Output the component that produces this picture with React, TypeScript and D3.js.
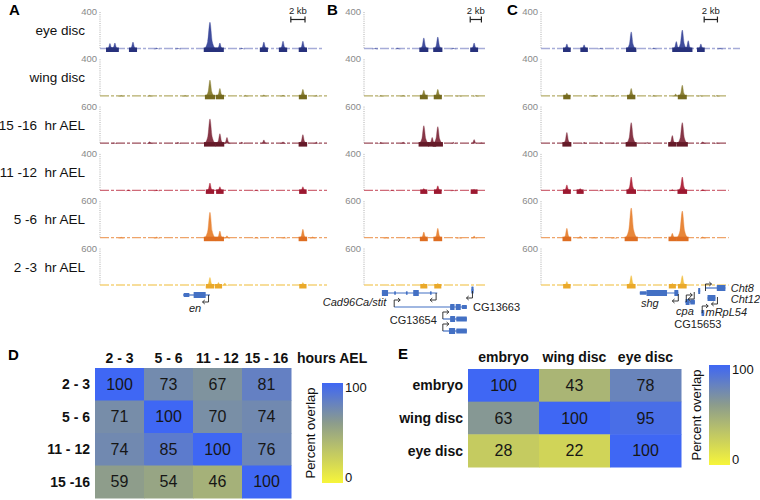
import React from "react";
import * as d3 from "d3";

// ChIP tracks: one row per sample, same order in all three loci
const trackNames = ["eye disc", "wing disc", "15 -16  hr AEL", "11 -12  hr AEL", "5 -6  hr AEL", "2 -3  hr AEL"];
const trackMax = [400, 400, 600, 400, 600, 600];
const trackFill = ["#3f4c9c", "#8c8238", "#863646", "#b02a40", "#e8873a", "#f2bf45"];
const trackDark = ["#27317c", "#756a1f", "#651a28", "#9c1830", "#de6e22", "#eaa92a"];
const trackLine = ["#a6acd8", "#b5ad6a", "#9b4c5a", "#cf6a78", "#eea46a", "#f5d27a"];

const panelLetters = ["A", "B", "C"];
const panelSpanKb = [32, 22, 30];
// how far each track reaches (kb) in each locus
const trackEndKb = [
  [31.3, 32, 32, 32, 32, 32],
  [22, 22, 22, 22, 22, 22],
  [30, 28.2, 28.2, 28.3, 28.3, 28.3],
];

// peaks: [position kb, height, called peak 1/0]
const peaksA = [
  [[1.4, 60, 1], [2.1, 65, 1], [4.65, 75, 1], [8, 8, 0], [11, 6, 0], [15.5, 290, 1], [16.9, 65, 1], [20, 8, 0], [23.1, 75, 1], [25.8, 85, 1], [28.6, 85, 1]],
  [[3, 8, 0], [7, 10, 0], [12, 8, 0], [15.5, 175, 1], [16.9, 85, 1], [20.5, 10, 0], [23.1, 15, 0], [25.8, 12, 0], [28.6, 75, 1], [30.5, 10, 0]],
  [[2, 15, 0], [7, 30, 0], [11, 20, 0], [15.5, 400, 1], [16.9, 160, 1], [17.9, 100, 0], [20, 25, 0], [23.1, 60, 0], [25.8, 30, 0], [28.6, 145, 1], [30.5, 25, 0]],
  [[4, 10, 0], [8, 10, 0], [15.5, 85, 1], [16.9, 45, 1], [22, 8, 0], [28.6, 45, 1]],
  [[3, 15, 0], [8, 20, 0], [15.5, 420, 1], [16.9, 115, 1], [17.9, 40, 0], [22, 15, 0], [26, 15, 0], [28.6, 145, 1], [30, 25, 0]],
  [[15.5, 130, 1], [16.7, 50, 1], [17.6, 40, 0], [28.6, 50, 1]],
];
const peaksB = [
  [[2, 6, 0], [6, 8, 0], [10.7, 120, 1], [13.2, 130, 1], [16, 8, 0], [19.7, 65, 1]],
  [[3, 8, 0], [7, 10, 0], [10.7, 65, 1], [13.2, 75, 1], [17, 8, 0], [20, 10, 0]],
  [[3, 20, 0], [7, 25, 0], [10.7, 290, 1], [12.2, 100, 1], [13.2, 275, 1], [16, 20, 0], [19.7, 65, 0], [21, 15, 0]],
  [[5, 8, 0], [10.7, 25, 1], [13.2, 55, 1], [16, 6, 0], [19.7, 15, 1]],
  [[4, 10, 0], [8, 12, 0], [10.7, 100, 1], [13.2, 160, 1], [17, 10, 0], [19.7, 35, 0]],
  [[5, 6, 0], [10.7, 35, 1], [13.2, 35, 1]],
];
const peaksC = [
  [[3.9, 55, 1], [6.5, 45, 1], [9, 6, 0], [13.6, 185, 1], [17, 8, 0], [20.4, 80, 1], [21.3, 205, 1], [22.2, 90, 1], [24.1, 55, 1], [27, 6, 0]],
  [[3.9, 35, 1], [8, 10, 0], [11, 8, 0], [13.6, 85, 1], [17, 10, 0], [20.3, 25, 0], [21.3, 120, 1], [24, 10, 0], [26.5, 8, 0]],
  [[3.9, 180, 1], [6.5, 20, 0], [9, 25, 0], [11, 15, 0], [13.6, 340, 1], [16, 20, 0], [19.8, 130, 1], [21.3, 340, 1], [24.4, 30, 0], [26.5, 15, 0]],
  [[3.9, 65, 1], [5.9, 25, 1], [9, 8, 0], [13.6, 150, 1], [16, 8, 0], [19.8, 15, 0], [21.3, 150, 1], [24.4, 15, 0]],
  [[3.9, 160, 1], [5.9, 30, 0], [8, 15, 0], [11, 10, 0], [13.6, 490, 1], [16, 12, 0], [19.8, 80, 1], [21.3, 440, 1], [24.4, 25, 0]],
  [[3.9, 65, 1], [8, 6, 0], [13.6, 160, 1], [19.8, 35, 1], [21.3, 160, 1]],
];
const panelPeaks = [peaksA, peaksB, peaksC];
const scaleBarKb = [26.9, 19.0, 24.6];

// gene models: panel, lane y, span kb, exons [start, end, thick]
const geneModels = [
  { panel: 0, y: 295, span: [11.7, 15.5], exons: [[11.8, 12.6, 0.7], [13.2, 14.9, 1]] },
  { panel: 1, y: 293, span: [3.2, 13.1], exons: [[3.2, 4.3, 1], [5.4, 5.7, 0.6], [7.5, 7.8, 0.6], [8.8, 9.8, 1], [11.8, 12.1, 0.6]] },
  { panel: 1, y: 307, span: [5.4, 18.4], exons: [[15.4, 16.2, 1], [16.4, 17.3, 1], [17.5, 18.4, 0.7]] },
  { panel: 1, y: 319, span: [14.1, 18.4], exons: [[15.4, 16.3, 1], [16.5, 18.4, 0.8]] },
  { panel: 1, y: 331, span: [14.1, 18.4], exons: [[15.2, 16.3, 1], [16.5, 18.4, 0.8]] },
  { panel: 1, y: 290, span: [19.2, 19.6], exons: [[19.2, 19.6, 1.2]] },
  { panel: 2, y: 293, span: [14.9, 20.7], exons: [[14.9, 15.9, 0.6], [15.9, 19.0, 1], [20.1, 20.7, 1]] },
  { panel: 2, y: 302, span: [21.7, 23.2], exons: [[21.8, 22.4, 1], [22.5, 23.2, 0.8]] },
  { panel: 2, y: 291, span: [23.7, 24.0], exons: [[23.7, 24.0, 1]] },
  { panel: 2, y: 288, span: [24.8, 27.8], exons: [[26.5, 27.8, 1]] },
  { panel: 2, y: 298, span: [25.1, 26.3], exons: [[25.1, 26.3, 1]] },
  { panel: 2, y: 313, span: [24.2, 24.6], exons: [[24.2, 24.6, 1]] },
];
// TSS arrows: panel, kb, y of the gene line, direction
const tssArrows = [
  { panel: 0, kb: 15.3, y: 295, dir: -1, down: true },
  { panel: 1, kb: 12.9, y: 293, dir: -1, down: true },
  { panel: 1, kb: 5.4, y: 307, dir: 1, down: false },
  { panel: 1, kb: 14.1, y: 319, dir: 1, down: false },
  { panel: 1, kb: 14.1, y: 331, dir: 1, down: false },
  { panel: 1, kb: 19.4, y: 291, dir: -1, down: true },
  { panel: 2, kb: 20.7, y: 294, dir: -1, down: true },
  { panel: 2, kb: 21.9, y: 302, dir: 1, down: false },
  { panel: 2, kb: 23.1, y: 292, dir: -1, down: true },
  { panel: 2, kb: 24.8, y: 291, dir: 1, down: false },
  { panel: 2, kb: 26.6, y: 297, dir: -1, down: true },
  { panel: 2, kb: 24.3, y: 313, dir: 1, down: false },
];
const geneLabels = [
  { panel: 0, kb: 13.4, y: 312, text: "en", italic: true, anchor: "middle" },
  { panel: 1, kb: 4.0, y: 306, text: "Cad96Ca/stit", italic: true, anchor: "end" },
  { panel: 1, kb: 4.6, y: 324, text: "CG13654", italic: false, anchor: "start" },
  { panel: 1, kb: 19.5, y: 311, text: "CG13663", italic: false, anchor: "start" },
  { panel: 2, kb: 16.4, y: 307, text: "shg", italic: true, anchor: "middle" },
  { panel: 2, kb: 21.7, y: 315, text: "cpa", italic: true, anchor: "middle" },
  { panel: 2, kb: 20.1, y: 328, text: "CG15653", italic: false, anchor: "start" },
  { panel: 2, kb: 28.6, y: 292, text: "Cht8", italic: true, anchor: "start" },
  { panel: 2, kb: 28.6, y: 303, text: "Cht12", italic: true, anchor: "start" },
  { panel: 2, kb: 24.8, y: 316, text: "mRpL54", italic: true, anchor: "start" },
];

// overlap heatmaps
const dCols = ["2 - 3", "5 - 6", "11 - 12", "15 - 16"];
const dRows = ["2 - 3", "5 - 6", "11 - 12", "15 -16"];
const dValues = [
  [100, 73, 67, 81],
  [71, 100, 70, 74],
  [74, 85, 100, 76],
  [59, 54, 46, 100],
];
const eLabels = ["embryo", "wing disc", "eye disc"];
const eValues = [
  [100, 43, 78],
  [63, 100, 95],
  [28, 22, 100],
];

const FONT = "Liberation Sans, Arial, Helvetica, sans-serif";
const panelX = [[100, 327], [364, 487], [541, 740]];
const TRACK_TOP = 12;
const TRACK_STEP = 47.3;
const TRACK_H = 37;

const color = d3
  .scaleLinear<string>()
  .domain([0, 60, 100])
  .range(["#f7f53a", "#8c9c8c", "#3f67f4"])
  .interpolate(d3.interpolateRgb);

const peakLine = d3
  .line<[number, number]>()
  .x((d) => d[0])
  .y((d) => d[1])
  .curve(d3.curveMonotoneX);

function Track({ panel, t }: { panel: number; t: number }) {
  const [x0, x1] = panelX[panel];
  const xs = d3.scaleLinear().domain([0, panelSpanKb[panel]]).range([x0, x1]);
  const top = TRACK_TOP + t * TRACK_STEP;
  const base = top + TRACK_H;
  const ys = d3.scaleLinear().domain([0, trackMax[t]]).range([base, top]);
  const peaks = panelPeaks[panel][t];
  const end = xs(trackEndKb[panel][t]);

  return (
    <g>
      <line x1={x0} x2={x0} y1={top} y2={base} stroke="#9a9a9a" strokeWidth={0.8} strokeDasharray="1,1.2" />
      <text x={x0 - 3} y={top + 3} textAnchor="end" fontSize={9.5} fill="#8a8a8a">
        {trackMax[t]}
      </text>
      <line x1={x0} x2={end} y1={base - 0.5} y2={base - 0.5} stroke={trackLine[t]} strokeWidth={1.3} strokeDasharray="9,2,3,2" />
      {peaks.map(([kb, h], i) => {
        const x = xs(kb);
        const yt = ys(h);
        const hw = 2.8 + (4 * h) / trackMax[t];
        const pts: [number, number][] = [
          [x - hw, base],
          [x - hw * 0.4, base - (base - yt) * 0.28],
          [x, yt],
          [x + hw * 0.4, base - (base - yt) * 0.28],
          [x + hw, base],
        ];
        return <path key={i} d={peakLine(pts) || ""} fill={trackFill[t]} stroke={trackFill[t]} strokeWidth={0.4} />;
      })}
      {peaks
        .filter((p) => p[2] === 1)
        .map(([kb, h], i) => {
          const hw = 2.8 + (4 * h) / trackMax[t];
          const bw = Math.max(6, 2 * hw + 1);
          return <rect key={i} x={xs(kb) - bw / 2} y={base - 1.5} width={bw} height={4.5} fill={trackDark[t]} />;
        })}
    </g>
  );
}

function Heatmap({ rows, cols, values, x0, x1, y0, y1 }: any) {
  const xs = d3.scaleBand().domain(cols.map((_: any, i: number) => String(i))).range([x0, x1]);
  const ys = d3.scaleBand().domain(rows.map((_: any, i: number) => String(i))).range([y0, y1]);
  return (
    <g>
      {values.map((row: number[], r: number) =>
        row.map((v, c) => (
          <g key={r + "-" + c}>
            <rect x={xs(String(c))} y={ys(String(r))} width={xs.bandwidth() + 0.5} height={ys.bandwidth() + 0.5} fill={color(v)} />
            <text
              x={(xs(String(c)) as number) + xs.bandwidth() / 2}
              y={(ys(String(r)) as number) + ys.bandwidth() / 2 + 5.5}
              textAnchor="middle"
              fontSize={16}
              fill="#161616"
            >
              {v}
            </text>
          </g>
        ))
      )}
      {rows.map((lab: string, r: number) => (
        <text key={lab} x={x0 - 5} y={(ys(String(r)) as number) + ys.bandwidth() / 2 + 5} textAnchor="end" fontSize={14} fontWeight="bold" fill="#111">
          {lab}
        </text>
      ))}
    </g>
  );
}

function ColorBar({ id, x, y0, y1, labelX }: { id: string; x: number; y0: number; y1: number; labelX: number }) {
  const stops = d3.range(0, 101, 10);
  const mid = (y0 + y1) / 2;
  return (
    <g>
      <defs>
        <linearGradient id={id} x1="0" y1="1" x2="0" y2="0">
          {stops.map((s) => (
            <stop key={s} offset={s / 100} stopColor={color(s)} />
          ))}
        </linearGradient>
      </defs>
      <rect x={x} y={y0} width={21} height={y1 - y0} fill={`url(#${id})`} />
      <text x={x + 23} y={y0 + 9} fontSize={13} fill="#111">100</text>
      <text x={x + 23} y={y1 - 1} fontSize={13} fill="#111">0</text>
      <text transform={`translate(${labelX},${mid}) rotate(-90)`} textAnchor="middle" fontSize={13} fill="#111">
        Percent overlap
      </text>
    </g>
  );
}

export default function App() {
  const geneColor = "#4370c4";
  return (
    <svg width={760} height={500} style={{ position: "absolute", left: 0, top: 0, background: "#fff" }} fontFamily={FONT}>
      {/* panel letters */}
      <text x={9} y={15} fontSize={15} fontWeight="bold">A</text>
      <text x={327} y={15} fontSize={15} fontWeight="bold">B</text>
      <text x={507} y={15} fontSize={15} fontWeight="bold">C</text>
      <text x={8} y={360} fontSize={15} fontWeight="bold">D</text>
      <text x={398} y={359} fontSize={15} fontWeight="bold">E</text>

      {trackNames.map((name, t) => (
        <text key={name} x={85} y={TRACK_TOP + t * TRACK_STEP + 23} textAnchor="end" fontSize={13.5} fill="#111" style={{ whiteSpace: "pre" }}>
          {name}
        </text>
      ))}

      {panelLetters.map((p, panel) => {
        const xs = d3.scaleLinear().domain([0, panelSpanKb[panel]]).range(panelX[panel]);
        const bx0 = xs(scaleBarKb[panel]);
        const bx1 = xs(scaleBarKb[panel] + 2);
        return (
          <g key={p}>
            {trackNames.map((_, t) => (
              <Track key={t} panel={panel} t={t} />
            ))}
            <text x={(bx0 + bx1) / 2} y={14} textAnchor="middle" fontSize={9.5} fill="#222">2 kb</text>
            <g stroke="#222" strokeWidth={1.2}>
              <line x1={bx0} x2={bx1} y1={19.5} y2={19.5} />
              <line x1={bx0} x2={bx0} y1={16.5} y2={22.5} />
              <line x1={bx1} x2={bx1} y1={16.5} y2={22.5} />
            </g>
          </g>
        );
      })}

      {/* gene models */}
      {geneModels.map((g, i) => {
        const xs = d3.scaleLinear().domain([0, panelSpanKb[g.panel]]).range(panelX[g.panel]);
        return (
          <g key={i}>
            <line x1={xs(g.span[0])} x2={xs(g.span[1])} y1={g.y} y2={g.y} stroke={geneColor} strokeWidth={1.2} />
            {g.exons.map(([s, e, th], j) => (
              <rect key={j} x={xs(s)} y={g.y - 3 * th} width={Math.max(1.5, xs(e) - xs(s))} height={6 * th} fill={geneColor} rx={0.5} />
            ))}
          </g>
        );
      })}
      {tssArrows.map((a, i) => {
        const xs = d3.scaleLinear().domain([0, panelSpanKb[a.panel]]).range(panelX[a.panel]);
        const x = xs(a.kb);
        const yEnd = a.down ? a.y + 7 : a.y - 7;
        const xEnd = x + a.dir * 6;
        return (
          <g key={i} stroke="#222" strokeWidth={0.9} fill="none">
            <path d={`M${x},${a.y} V${yEnd} H${xEnd}`} />
            <path d={`M${xEnd - a.dir * 2.2},${yEnd - 2} L${xEnd},${yEnd} L${xEnd - a.dir * 2.2},${yEnd + 2}`} />
          </g>
        );
      })}
      {geneLabels.map((l, i) => {
        const xs = d3.scaleLinear().domain([0, panelSpanKb[l.panel]]).range(panelX[l.panel]);
        return (
          <text key={i} x={xs(l.kb)} y={l.y} textAnchor={l.anchor as any} fontSize={11} fontStyle={l.italic ? "italic" : "normal"} fill="#222">
            {l.text}
          </text>
        );
      })}

      {/* D */}
      {dCols.map((c) => {
        const xs = d3.scaleBand().domain(dCols).range([95, 291]);
        return (
          <text key={c} x={(xs(c) as number) + xs.bandwidth() / 2} y={363} textAnchor="middle" fontSize={14} fontWeight="bold" fill="#111">
            {c}
          </text>
        );
      })}
      <text x={297} y={363} fontSize={14} fontWeight="bold" fill="#111">hours AEL</text>
      <Heatmap rows={dRows} cols={dCols} values={dValues} x0={95} x1={291} y0={368} y1={498} />
      <ColorBar id="gradD" x={322} y0={383} y1={483} labelX={315} />

      {/* E */}
      {eLabels.map((c) => {
        const xs = d3.scaleBand().domain(eLabels).range([468, 681]);
        return (
          <text key={c} x={(xs(c) as number) + xs.bandwidth() / 2} y={362} textAnchor="middle" fontSize={14} fontWeight="bold" fill="#111">
            {c}
          </text>
        );
      })}
      <Heatmap rows={eLabels} cols={eLabels} values={eValues} x0={468} x1={681} y0={369} y1={467} />
      <ColorBar id="gradE" x={709} y0={365} y1={465} labelX={701} />
    </svg>
  );
}
